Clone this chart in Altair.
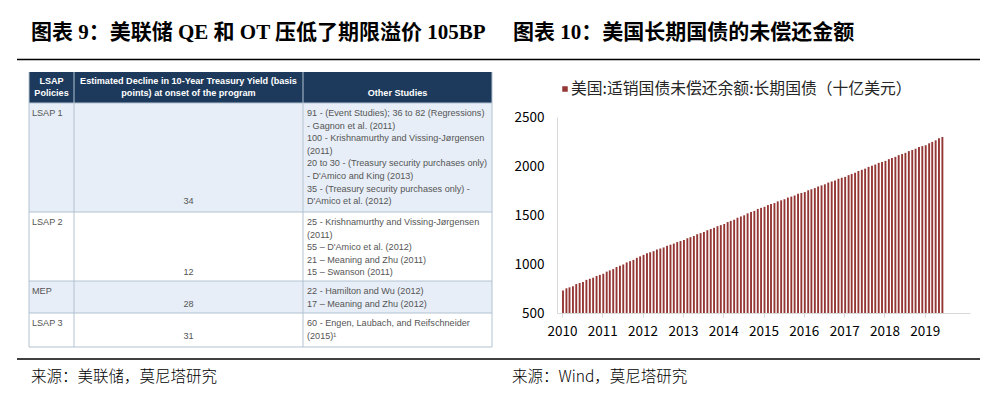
import altair as alt
import pandas as pd

# ------------------------------------------------------------------ data
title_left = "图表 9：美联储 QE 和 OT 压低了期限溢价 105BP"
title_right = "图表 10：美国长期国债的未偿还金额"
source_left = "来源：美联储，莫尼塔研究"
source_right = "来源：Wind，莫尼塔研究"
legend_label = "美国:适销国债未偿还余额:长期国债（十亿美元）"

years = [2010, 2011, 2012, 2013, 2014, 2015, 2016, 2017, 2018, 2019]
y_ticks = [500, 1000, 1500, 2000, 2500]

v2010 = [730, 752, 762, 773, 795, 806, 816, 838, 849, 860, 878, 889]
v2011 = [900, 922, 935, 948, 969, 982, 995, 1016, 1029, 1042, 1063, 1078]
v2012 = [1093, 1110, 1120, 1131, 1148, 1158, 1169, 1186, 1197, 1208, 1224, 1234]
v2013 = [1245, 1263, 1274, 1286, 1304, 1315, 1327, 1345, 1357, 1369, 1386, 1397]
v2014 = [1408, 1428, 1440, 1452, 1472, 1485, 1497, 1517, 1530, 1542, 1562, 1573]
v2015 = [1584, 1601, 1611, 1622, 1639, 1650, 1661, 1678, 1688, 1699, 1716, 1725]
v2016 = [1734, 1752, 1763, 1774, 1791, 1802, 1813, 1831, 1842, 1853, 1870, 1880]
v2017 = [1889, 1907, 1919, 1931, 1949, 1961, 1973, 1991, 2003, 2015, 2032, 2042]
v2018 = [2052, 2070, 2081, 2093, 2111, 2122, 2134, 2152, 2164, 2176, 2194, 2203]
v2019 = [2212, 2232, 2246, 2262, 2282, 2296]

table_header = [
    ["LSAP", "Policies"],
    ["Estimated Decline in 10-Year Treasury Yield (basis", "points) at onset of the program"],
    ["Other Studies"],
]
policies = ["LSAP 1", "LSAP 2", "MEP", "LSAP 3"]
declines = ["34", "12", "28", "31"]
studies = [
    ["91 - (Event Studies); 36 to 82 (Regressions)",
     "- Gagnon et al. (2011)",
     "100 - Krishnamurthy and Vissing-Jørgensen",
     "(2011)",
     "20 to 30 - (Treasury security purchases only)",
     "- D'Amico and King (2013)",
     "35 - (Treasury security purchases only) -",
     "D'Amico et al. (2012)"],
    ["25 - Krishnamurthy and Vissing-Jørgensen",
     "(2011)",
     "55 – D'Amico et al. (2012)",
     "21 – Meaning and Zhu (2011)",
     "15 – Swanson (2011)"],
    ["22 - Hamilton and Wu (2012)",
     "17 – Meaning and Zhu (2012)"],
    ["60 - Engen, Laubach, and Reifschneider",
     "(2015)¹"],
]

# ------------------------------------------------------------------ layout
OX, OY = 557, 117          # page position of plot origin (2010-01, 2500)
W, H = 413, 196
PAD = {"left": OX - 8, "top": OY - 8, "right": 987 - (OX - 8) - W, "bottom": 377 - (OY - 8) - H}


def px(x):
    return x - OX


def py(y):
    return y - OY


BAR_COLOR = "#943634"
NAVY = "#1d3a5c"
LIGHT = "#e7eef7"
BORDER = "#b3c2d2"
CJK = "'Noto Sans CJK SC'"
TITLE_FONT = "'Liberation Serif', 'Noto Sans CJK SC'"
TABLE_FONT = "'Liberation Sans'"
TABLE_FS = 9.1

col_edges = [29, 74, 303, 492]
row_edges = [72, 103, 212, 281, 313, 347]
line_h = 12.6

# ------------------------------------------------------------------ bar data
values = v2010 + v2011 + v2012 + v2013 + v2014 + v2015 + v2016 + v2017 + v2018 + v2019
bars_df = pd.DataFrame({
    "date": pd.date_range("2010-01-01", periods=len(values), freq="MS"),
    "value": values,
})

bars = alt.Chart(bars_df).mark_bar(size=1.9, color=BAR_COLOR, xOffset=1).encode(
    x=alt.X("date:T", title=None,
            scale=alt.Scale(domain=[alt.DateTime(year=2010, month=1, date=1),
                                    alt.DateTime(year=2020, month=1, date=1)]),
            axis=alt.Axis(values=[alt.DateTime(year=y, month=1, date=1) for y in years],
                          format="%Y", grid=False, domainColor="#d9d9d9", tickColor="#d9d9d9",
                          tickSize=4, labelFontSize=13.5, labelFont=CJK, labelColor="#000000",
                          labelBaseline="middle", labelPadding=14, labelFlush=False,
                          labelOverlap=False)),
    y=alt.Y("value:Q", title=None,
            scale=alt.Scale(domain=[500, 2500], nice=False, zero=False),
            axis=alt.Axis(values=y_ticks, format="d", grid=False, ticks=False,
                          domainColor="#d9d9d9",
                          labelFontSize=13.5, labelFont=CJK, labelColor="#000000",
                          labelPadding=13, labelFlush=False)),
    y2=alt.datum(500),
)

# ------------------------------------------------------------------ table
cells = []
fills = [NAVY, LIGHT, "#ffffff", LIGHT, "#ffffff"]
for r in range(5):
    cells.append({"x": px(col_edges[0]), "x2": px(col_edges[-1]),
                  "y": py(row_edges[r]), "y2": py(row_edges[r + 1]), "fill": fills[r]})
cells_df = pd.DataFrame(cells)

lines = []
for c in col_edges:
    lines.append({"x": px(c), "x2": px(c), "y": py(row_edges[0]), "y2": py(row_edges[-1])})
for r in row_edges[1:]:
    lines.append({"x": px(col_edges[0]), "x2": px(col_edges[-1]), "y": py(r), "y2": py(r)})
lines_df = pd.DataFrame(lines)

header_txt = []
centers = [(col_edges[i] + col_edges[i + 1]) / 2 for i in range(3)]
for i, lns in enumerate(table_header):
    n = len(lns)
    for j, t in enumerate(lns):
        header_txt.append({"x": px(centers[i]), "y": py(93 - (n - 1 - j) * 12), "text": t})
header_df = pd.DataFrame(header_txt)

left_txt, center_txt = [], []
for r in range(4):
    top = row_edges[r + 1]
    y0 = top + 10
    left_txt.append({"x": px(32), "y": py(y0), "text": policies[r]})
    for j, t in enumerate(studies[r]):
        left_txt.append({"x": px(307), "y": py(y0 + j * line_h), "text": t})
    center_txt.append({"x": px(centers[1]), "y": py(y0 + (len(studies[r]) - 1) * line_h),
                       "text": declines[r]})
left_df = pd.DataFrame(left_txt)
center_df = pd.DataFrame(center_txt)

XN = lambda f: alt.X(f, type="quantitative", scale=None, axis=None)
YN = lambda f: alt.Y(f, type="quantitative", scale=None, axis=None)

cell_layer = alt.Chart(cells_df).mark_rect().encode(
    x=XN("x"), x2="x2", y=YN("y"), y2="y2", color=alt.Color("fill:N", scale=None))
line_layer = alt.Chart(lines_df).mark_rule(color=BORDER, strokeWidth=1).encode(
    x=XN("x"), x2="x2", y=YN("y"), y2="y2")
header_layer = alt.Chart(header_df).mark_text(
    font=TABLE_FONT, fontSize=TABLE_FS, fontWeight="bold", color="#ffffff", align="center",
    baseline="middle").encode(x=XN("x"), y=YN("y"), text="text:N")
left_layer = alt.Chart(left_df).mark_text(
    font=TABLE_FONT, fontSize=TABLE_FS, color="#555555", align="left",
    baseline="middle").encode(x=XN("x"), y=YN("y"), text="text:N")
center_layer = alt.Chart(center_df).mark_text(
    font=TABLE_FONT, fontSize=TABLE_FS, color="#555555", align="center",
    baseline="middle").encode(x=XN("x"), y=YN("y"), text="text:N")

# ------------------------------------------------------------------ frame
rules_df = pd.DataFrame([
    {"x": px(17), "x2": px(980), "y": py(59.5), "y2": py(59.5)},
    {"x": px(17), "x2": px(980), "y": py(359), "y2": py(359)},
])
rule_layer = alt.Chart(rules_df).mark_rule(color="#000000", strokeWidth=1.5).encode(
    x=XN("x"), x2="x2", y=YN("y"), y2="y2")

titles_df = pd.DataFrame([
    {"x": px(31), "y": py(33), "text": title_left},
    {"x": px(513), "y": py(33), "text": title_right},
])
title_layer = alt.Chart(titles_df).mark_text(
    font=TITLE_FONT, fontSize=21, fontWeight="bold", color="#000000", align="left",
    baseline="middle").encode(x=XN("x"), y=YN("y"), text="text:N")

sources_df = pd.DataFrame([
    {"x": px(31), "y": py(377), "text": source_left},
    {"x": px(512), "y": py(377), "text": source_right},
])
source_layer = alt.Chart(sources_df).mark_text(
    font=CJK, fontSize=15.5, fontWeight=300, color="#000000", align="left",
    baseline="middle").encode(x=XN("x"), y=YN("y"), text="text:N")

legend_df = pd.DataFrame([{"x": px(565), "xt": px(571), "y": py(89), "text": legend_label}])
legend_sq = alt.Chart(legend_df).mark_square(size=30, color=BAR_COLOR, opacity=1).encode(
    x=XN("x"), y=YN("y"))
legend_tx = alt.Chart(legend_df).mark_text(
    font=CJK, fontSize=15.8, color="#262626", align="left", baseline="middle").encode(
    x=XN("xt"), y=YN("y"), text="text:N")

chart = alt.layer(
    cell_layer, line_layer, header_layer, left_layer, center_layer,
    rule_layer, title_layer, source_layer, legend_sq, legend_tx, bars,
).resolve_scale(x="independent", y="independent").properties(
    width=W, height=H, padding=PAD, autosize="none", background="#ffffff",
).configure_view(strokeWidth=0)

chart.save("out.html", embed_options={"renderer": "svg", "actions": False})
